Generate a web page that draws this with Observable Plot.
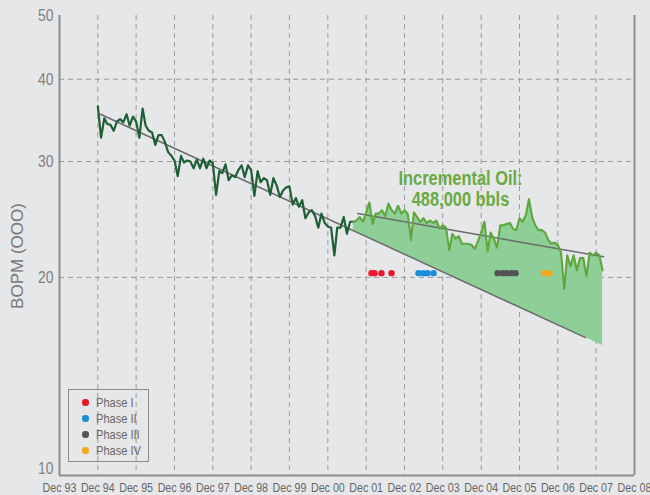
<!DOCTYPE html>
<html><head><meta charset="utf-8">
<script src="https://cdn.jsdelivr.net/npm/d3@7"></script>
<script src="https://cdn.jsdelivr.net/npm/@observablehq/plot@0.6"></script>
<style>
body{margin:0;background:#e6e7e9;}
#wrap{position:relative;width:650px;height:495px;background:#e6e7e9;overflow:hidden;font-family:"Liberation Sans",Arial,sans-serif;}
#ylab{position:absolute;left:18px;top:256px;transform:translate(-50%,-50%) rotate(-90deg);font-family:"Liberation Sans",Arial,sans-serif;font-size:17px;color:#777;white-space:nowrap;}
#legend{position:absolute;left:68px;top:389px;width:81px;height:73px;border:1.5px solid #8a8a8a;box-sizing:border-box;padding-top:4.5px;}
.item{height:16px;line-height:16px;font-size:13.5px;color:#666;display:flex;align-items:center;}
.item span.t{display:inline-block;transform:scaleX(0.82);transform-origin:left center;white-space:nowrap;}
.dot{width:6.5px;height:6.5px;border-radius:50%;margin-left:13px;margin-right:7px;flex:none;}
</style></head>
<body>
<div id="wrap"><div id="chart"></div><div id="ylab"></div><div id="legend"></div></div>
<script>
// ---- data ----
const tickYears = [1993,1994,1995,1996,1997,1998,1999,2000,2001,2002,2003,2004,2005,2006,2007,2008];
const gridYears = [1994,1995,1996,1997,1998,1999,2000,2001,2002,2003,2004,2005,2006,2007];
const yTicks = [10,20,30,40,50];
const yGrid = [20,30,40];
const yLabel = "BOPM (OOO)";

// monthly production before the program (Dec 94 .. Aug 01)
const darkStart = "1994-12";
const darkValues = [
  36.4,32.6,34.9,34.2,34.1,33.4,34.5,34.8,34.4,35.4,
  34.0,35.1,34.5,32.6,36.1,34.0,33.4,33.2,31.8,32.9,
  32.9,32.1,31.0,30.6,30.1,28.5,30.6,29.9,30.1,30.0,
  29.3,30.2,29.3,30.3,29.3,30.1,29.8,26.7,29.0,28.8,
  29.7,28.1,28.6,28.4,29.1,29.6,28.4,29.6,29.1,26.6,
  29.0,27.9,28.3,28.1,26.7,28.3,27.6,26.5,27.1,27.4,
  27.5,25.8,26.4,25.6,26.2,24.6,25.1,25.3,24.8,23.8,
  25.0,24.2,23.9,23.8,21.6,23.8,23.8,24.7,23.3,24.3,
  24.3
];
// monthly production during the program (Sep 01 .. Feb 08)
const lightStart = "2001-09";
const lightValues = [
  24.4,24.7,24.3,25.1,26.0,24.1,25.0,25.0,25.3,24.8,
  25.9,25.3,25.0,25.7,25.0,25.3,25.0,22.8,25.1,24.7,
  24.3,24.6,24.2,24.4,24.2,24.4,23.7,24.0,23.8,22.0,
  23.3,22.9,23.1,22.5,22.5,22.5,22.4,22.1,22.7,23.4,
  24.3,21.9,23.4,22.9,22.2,24.0,24.0,24.1,24.2,23.7,
  23.6,24.6,24.3,24.9,26.3,24.7,24.0,23.6,23.6,23.4,
  22.8,22.5,22.6,22.4,21.8,19.2,21.6,20.8,21.6,20.5,
  21.4,21.4,20.1,21.8,21.6,21.8,21.6,20.5
];
// decline trend (straight line on log scale)
const declineDates = ["1994-12-27","2007-08-22"];
const declineValues = [35.4, 16.2];
// trend of production during the program
const upperDates = ["2001-09-11","2008-02-10"];
const upperValues = [25.0, 21.5];

const phaseNames = ["Phase I","Phase II","Phase III","Phase IV"];
const phaseColors = ["#e8192c","#1b8dd8","#555555","#f4a81d"];
const phaseDates = [
  ["2002-01-21","2002-02-19","2002-04-26","2002-07-31"],
  ["2003-04-14","2003-05-31","2003-07-09","2003-09-04"],
  ["2005-05-06","2005-06-23","2005-07-31","2005-09-16","2005-10-25"],
  ["2006-07-26","2006-09-13"]
];
const phaseLevel = 20.3;

const noteLines = ["Incremental Oil:","488,000 bbls"];
const noteDate = "2004-05-18";
const noteValue = 27.3;

// ---- build ----
const pm = d3.utcParse("%Y-%m"), pd = d3.utcParse("%Y-%m-%d");
const dark = darkValues.map((v,i)=>({date:d3.utcMonth.offset(pm(darkStart),i), value:v}));
const light = lightValues.map((v,i)=>({date:d3.utcMonth.offset(pm(lightStart),i), value:v}));
const lightLine = [dark[dark.length-1], ...light];
const decline = declineDates.map((d,i)=>({date:pd(d), value:declineValues[i]}));
const upper = upperDates.map((d,i)=>({date:pd(d), value:upperValues[i]}));
const t0 = +decline[0].date, t1 = +decline[1].date;
const trendAt = d => Math.exp(Math.log(declineValues[0]) + (Math.log(declineValues[1])-Math.log(declineValues[0]))*((+d - t0)/(t1 - t0)));
const area = lightLine.map(p=>({date:p.date, value:p.value, lower:trendAt(p.date)}));
const phases = phaseDates.flatMap((ds,k)=>ds.map(d=>({date:pd(d), value:phaseLevel, phase:phaseNames[k]})));
const ticks = tickYears.map(y=>new Date(Date.UTC(y,11,1)));
const grid = gridYears.map(y=>new Date(Date.UTC(y,11,1)));
const xDomain = [ticks[0], ticks[ticks.length-1]];
const note = [{date:pd(noteDate), value:noteValue, text:noteLines.join("\n")}];

const font = '"Liberation Sans",Arial,sans-serif';
const gridStyle = {stroke:"#9a9a9a", strokeWidth:1, strokeDasharray:"5,4"};

const chart = Plot.plot({
  width:650, height:495,
  marginLeft:59, marginRight:16, marginTop:15, marginBottom:20,
  style:{background:"transparent", fontFamily:font, overflow:"visible"},
  x:{type:"utc", domain:xDomain},
  y:{type:"log", domain:[10,50]},
  marks:[
    Plot.ruleY(yGrid, gridStyle),
    Plot.ruleX(grid, gridStyle),
    Plot.areaY(area, {x:"date", y1:"lower", y2:"value", fill:"#8ecf97"}),
    Plot.line(decline, {x:"date", y:"value", stroke:"#6b6b6b", strokeWidth:1.5}),
    Plot.line(upper, {x:"date", y:"value", stroke:"#6b6b6b", strokeWidth:1.5}),
    Plot.line(dark, {x:"date", y:"value", stroke:"#1f5f35", strokeWidth:2.2}),
    Plot.line(lightLine, {x:"date", y:"value", stroke:"#5ea63d", strokeWidth:2.1}),
    Plot.dot(phases, {x:"date", y:"value", r:3.2, fill:d=>phaseColors[phaseNames.indexOf(d.phase)], stroke:"none"}),
    Plot.text(note, {x:"date", y:"value", text:"text", fontSize:20, fontWeight:"bold", fill:"#69aa42", lineHeight:1.06, fontFamily:font}),
    Plot.axisX(ticks, {tickFormat:d=>"Dec " + d3.utcFormat("%y")(d), tickSize:0, tickPadding:7, fontSize:13, fill:"#666", label:null, fontFamily:font}),
    Plot.axisY(yTicks, {tickFormat:d=>String(d), tickSize:0, tickPadding:6, fontSize:17, fill:"#808080", label:null, fontFamily:font}),
    Plot.ruleX([xDomain[0], xDomain[1]], {stroke:"#8d8d8d", strokeWidth:2}),
    Plot.ruleY([10], {stroke:"#8d8d8d", strokeWidth:2})
  ]
});
document.getElementById("chart").appendChild(chart);
// condense text horizontally (narrow face look)
function condense(el, f){
  const len = el.getComputedTextLength();
  if (len > 0){ el.setAttribute("textLength", (len*f).toFixed(2)); el.setAttribute("lengthAdjust","spacingAndGlyphs"); }
}
chart.querySelectorAll('g[aria-label="x-axis tick label"] text').forEach(t=>condense(t,0.82));
chart.querySelectorAll('g[aria-label="y-axis tick label"] text').forEach(t=>{
  condense(t,0.82);
  if (t.textContent === "10") t.setAttribute("y", String((parseFloat(t.getAttribute("y")) || 0) - 2));
});
chart.querySelectorAll('g[aria-label="text"] tspan').forEach(t=>condense(t,0.82));
document.getElementById("ylab").textContent = yLabel;
const leg = document.getElementById("legend");
phaseNames.forEach((n,i)=>{
  const it = document.createElement("div"); it.className="item";
  const dt = document.createElement("span"); dt.className="dot"; dt.style.background=phaseColors[i];
  const tx = document.createElement("span"); tx.className="t"; tx.textContent=n;
  it.appendChild(dt); it.appendChild(tx); leg.appendChild(it);
});
</script>
</body></html>
